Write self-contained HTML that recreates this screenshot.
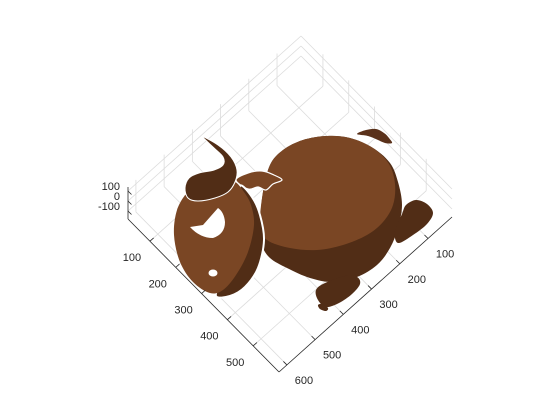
<!DOCTYPE html>
<html><head><meta charset="utf-8"><style>
html,body{margin:0;padding:0;background:#fff;}
svg{display:block;font-family:"Liberation Sans",sans-serif;}
</style></head><body>
<svg id="chart" width="560" height="420" viewBox="0 0 560 420" xmlns="http://www.w3.org/2000/svg">
<rect x="0" y="0" width="560" height="420" fill="#fff"/>
<g id="grid"></g>
<g id="bull">
  <path class="sm" fill="#512d16" data-pts="270,165 283,150 303,140 327,136 350,138 373,148 390,163 398,182 402,205 398,228 390,248 377,265 357,277 333,282 310,278 287,268 270,258 262,245 260,225 263,192"/>
  <path class="sm" fill="#7a4624" data-pts="270,165 283,150 303,140 327,136 350,138 373,148 389,164 395,184 393,205 383,222 367,235 343,245 317,250 290,248 267,240 260,225 263,192"/>
  <path class="sm" fill="#5a311a" data-pts="357,134 366,130 376,129 384,133 389,138 392,143 385,143 378,140 368,136"/>
  <path class="sm" fill="#512d16" data-pts="402,214 406,205 416,200 427,204 433,213 427,224 413,235 398,243 395,231"/>
  <path class="sm" fill="#512d16" data-pts="316,290 325,283 345,276 357,277 360,284 352,294 339,303 326,307 318,300"/>
  <path class="sm" fill="#512d16" data-pts="318,305 322,304 328,308 326,311 320,309"/>
  <path class="sm" fill="#7a4624" stroke="#fff" stroke-width="1.2" data-pts="236,180 248,173 262,171 274,175 282,180 273,184 266,190 258,187 248,189"/>
  <path class="sm" fill="#512d16" stroke="#fff" stroke-width="2" data-pts="240,186 252,197 260,215 264,240 258,268 245,287 230,296 216,296 222,280 238,250 242,215"/>
  <path class="sm" fill="#7a4624" data-pts="187,193 177,210 174,235 180,262 193,282 210,293 223,290 236,275 248,252 254,225 251,205 244,192 235,182 228,188 218,194 204,198 190,199"/>
  <path class="sm" fill="#512d16" stroke="#fff" stroke-width="1" data-pts="203,137 218,145 231,157 237,170 235,182 228,192 215,198 198,201 188,198 185,188 189,178 199,173 214,170 223,165 223,157 214,148"/>
  <path fill="#fff" d="M190,227 L203,225 L218,208 Q224,212 225,222 Q225,234 213,238 Q200,238 190,227 Z"/>
  <ellipse cx="213" cy="273" rx="4.5" ry="3.5" fill="#fff"/>
</g>
<g id="axes"></g>
</svg>
<script>
const xTicks = [100, 200, 300, 400, 500];
const xTickLabels = ["100", "200", "300", "400", "500"];
const yTicks = [100, 200, 300, 400, 500, 600];
const yTickLabels = ["100", "200", "300", "400", "500", "600"];
const zTicks = [-100, 0, 100];
const zTickLabels = ["-100", "0", "100"];
const xLim = [15, 600];
const yLim = [15, 628];
const zLim = [-180, 140];

const NS = "http://www.w3.org/2000/svg";
document.querySelectorAll("path.sm").forEach(p => {
  const pts = p.getAttribute("data-pts").trim().split(/\s+/).map(s => s.split(",").map(Number));
  const n = pts.length;
  let d = "M" + pts[0][0] + "," + pts[0][1];
  for (let i = 0; i < n; i++) {
    const p0 = pts[(i - 1 + n) % n], p1 = pts[i], p2 = pts[(i + 1) % n], p3 = pts[(i + 2) % n];
    const c1 = [p1[0] + (p2[0] - p0[0]) / 6, p1[1] + (p2[1] - p0[1]) / 6];
    const c2 = [p2[0] - (p3[0] - p1[0]) / 6, p2[1] - (p3[1] - p1[1]) / 6];
    d += " C" + c1[0].toFixed(1) + "," + c1[1].toFixed(1) + " " + c2[0].toFixed(1) + "," + c2[1].toFixed(1) + " " + p2[0] + "," + p2[1];
  }
  p.setAttribute("d", d + " Z");
});

function P(x, y, z) {
  const sx = 128 + (x - xLim[0]) * 151 / 585 + (yLim[1] - y) * 173 / 613;
  const sy = 219 + (x - xLim[0]) * 153 / 585 - (yLim[1] - y) * 155 / 613 - (z - zLim[0]) * 0.1;
  return [sx, sy];
}
function line(g, a, b, color, w) {
  const l = document.createElementNS(NS, "line");
  l.setAttribute("x1", a[0]); l.setAttribute("y1", a[1]);
  l.setAttribute("x2", b[0]); l.setAttribute("y2", b[1]);
  l.setAttribute("stroke", color); l.setAttribute("stroke-width", w);
  g.appendChild(l);
  return l;
}
function text(g, x, y, s, anchor) {
  const t = document.createElementNS(NS, "text");
  t.setAttribute("x", x); t.setAttribute("y", y);
  t.setAttribute("font-size", "11"); t.setAttribute("fill", "#262626");
  t.setAttribute("text-anchor", anchor); t.setAttribute("dominant-baseline", "central");
  t.textContent = s;
  g.appendChild(t);
  return t;
}
const grid = document.getElementById("grid");
const gc = "#dcdcdc";
xTicks.forEach(v => {
  const a = line(grid, P(v, yLim[1], zLim[0]), P(v, yLim[0], zLim[0]), gc, 0.8);
  
  
  const b = line(grid, P(v, yLim[0], zLim[0]), P(v, yLim[0], zLim[1]), gc, 0.8);
  
  
});
yTicks.forEach(v => {
  const a = line(grid, P(xLim[1], v, zLim[0]), P(xLim[0], v, zLim[0]), gc, 0.8);
  
  
  const b = line(grid, P(xLim[0], v, zLim[0]), P(xLim[0], v, zLim[1]), gc, 0.8);
  
  
});
zTicks.forEach(v => {
  const a = line(grid, P(xLim[0], yLim[1], v), P(xLim[0], yLim[0], v), gc, 0.8);
  
  
  const b = line(grid, P(xLim[0], yLim[0], v), P(xLim[1], yLim[0], v), gc, 0.8);
  
  
});

const axes = document.getElementById("axes");
const ac = "#262626";
const xa = line(axes, P(xLim[0], yLim[1], zLim[0]), P(xLim[1], yLim[1], zLim[0]), ac, 0.8);


const ya = line(axes, P(xLim[1], yLim[1], zLim[0]), P(xLim[1], yLim[0], zLim[0]), ac, 0.8);


const za = line(axes, P(xLim[0], yLim[1], zLim[0]), P(xLim[0], yLim[1], zLim[1]), ac, 0.8);



xTicks.forEach((v, i) => {
  const p = P(v, yLim[1], zLim[0]);
  const t = line(axes, p, [p[0] + 3.7, p[1] - 3.3], ac, 0.8);
  
  
  const lb = text(axes, p[0] - 18, p[1] + 17, xTickLabels[i], "middle");
  
  
});
yTicks.forEach((v, i) => {
  const p = P(xLim[1], v, zLim[0]);
  const t = line(axes, p, [p[0] - 3.5, p[1] - 3.5], ac, 0.8);
  
  
  const lb = text(axes, p[0] + 17, p[1] + 16, yTickLabels[i], "middle");
  
  
});
zTicks.forEach((v, i) => {
  const p = P(xLim[0], yLim[1], v);
  const t = line(axes, p, [p[0] + 3.5, p[1] + 3.5], ac, 0.8);
  
  
  const lb = text(axes, p[0] - 8, p[1] - 4, zTickLabels[i], "end");
  
  
});
</script>
</body></html>
